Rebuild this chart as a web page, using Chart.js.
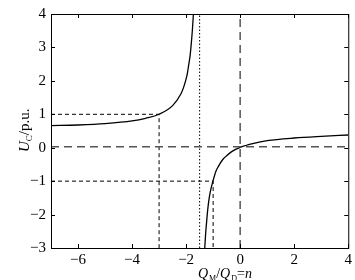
<!DOCTYPE html>
<html><head><meta charset="utf-8">
<script src="https://cdn.jsdelivr.net/npm/chart.js@4.4.0/dist/chart.umd.min.js"></script>
<style>html,body{margin:0;padding:0;background:#fff;}#wrap{width:355px;height:280px;}</style>
</head><body><div id="wrap"><canvas id="c" width="355" height="280"></canvas></div>
<script>
// Curve (two branches around the asymptote)
const leftX = [-7, -6, -5, -4, -3.5, -3, -2.5, -2.2, -2.1, -2, -1.95, -1.9, -1.85, -1.8, -1.77, -1.73];
const leftY = [0.66, 0.68, 0.72, 0.80, 0.88, 1.0, 1.26, 1.6, 1.79, 2.06, 2.24, 2.5, 2.77, 3.2, 3.5, 4.0];
const rightX = [-1.31, -1.28, -1.25, -1.2, -1.15, -1.1, -1.0, -0.9, -0.8, -0.65, -0.5, -0.3, 0, 0.5, 1, 2, 3, 4];
const rightY = [-3.0, -2.6, -2.3, -1.85, -1.53, -1.3, -0.98, -0.71, -0.55, -0.36, -0.24, -0.11, 0.01, 0.13, 0.21, 0.29, 0.34, 0.38];
// Reference lines
const refHigh = {x: -3, y: 1};
const refLow = {x: -1, y: -1};
const dottedX = -1.5;
const zeroLineY = 0.03;
const zeroLineX = 0;
const xTicks = [-6, -4, -2, 0, 2, 4];
const yTicks = [-3, -2, -1, 0, 1, 2, 3, 4];
const xMin = -7, xMax = 4, yMin = -3, yMax = 4;

const pts = (xs, ys) => xs.map((x, i) => ({x, y: ys[i]}));
const line = (data, color, width, dash, smooth) => ({data, borderColor: color, borderWidth: width, borderDash: dash, showLine: true, pointRadius: 0, fill: false, tension: smooth ? 0.4 : 0, cubicInterpolationMode: smooth ? 'monotone' : 'default'});

const fmt = v => v < 0 ? '\u2212' + Math.abs(v) : String(v);
const SERIF = '"Liberation Serif", "Times New Roman", serif';

const decor = {
  id: 'decor',
  afterDraw(chart) {
    const ctx = chart.ctx, a = chart.chartArea, xs = chart.scales.x, ys = chart.scales.y;
    ctx.save();
    ctx.strokeStyle = '#000'; ctx.lineWidth = 1;
    ctx.strokeRect(a.left + 0.5, a.top + 0.5, a.right - a.left, a.bottom - a.top);
    ctx.beginPath();
    xTicks.forEach(v => {
      const p = Math.round(xs.getPixelForValue(v)) + 0.5;
      ctx.moveTo(p, a.bottom); ctx.lineTo(p, a.bottom - 4);
      ctx.moveTo(p, a.top); ctx.lineTo(p, a.top + 4);
    });
    yTicks.forEach(v => {
      const p = Math.round(ys.getPixelForValue(v)) + 0.5;
      ctx.moveTo(a.left, p); ctx.lineTo(a.left + 4, p);
      ctx.moveTo(a.right, p); ctx.lineTo(a.right - 4, p);
    });
    ctx.stroke();
    ctx.fillStyle = '#000';
    ctx.textBaseline = 'alphabetic';
    ctx.textAlign = 'left';
    let x = 198, y = 278;
    const put = (t, f, dy) => { ctx.font = f + ' ' + SERIF; ctx.fillText(t, x, y + (dy || 0)); x += ctx.measureText(t).width; };
    // x label
    put('Q', 'italic 14px');
    x += 1;
    put('M', '8px', 3);
    put('/', '14px');
    put('Q', 'italic 14px');
    x += 1;
    put('D', '8px', 3);
    put('=', '14px');
    put('n', 'italic 14px');
    // y label
    ctx.translate(29, 152);
    ctx.rotate(-Math.PI / 2);
    x = 0; y = 0;
    put('U', 'italic 15px');
    put('C', '9px', 3);
    put('/p.u.', '15px');
    ctx.restore();
  }
};

new Chart(document.getElementById('c'), {
  type: 'scatter',
  data: {datasets: [
    line([{x: xMin, y: zeroLineY}, {x: xMax, y: zeroLineY}], '#555', 1.5, [8, 5]),
    line([{x: zeroLineX, y: yMin}, {x: zeroLineX, y: yMax}], '#555', 1.5, [8, 5]),
    line([{x: xMin, y: refHigh.y}, {x: refHigh.x, y: refHigh.y}, {x: refHigh.x, y: yMin}], '#000', 1, [4, 3]),
    line([{x: xMin, y: refLow.y}, {x: refLow.x, y: refLow.y}, {x: refLow.x, y: yMin}], '#000', 1, [4, 3]),
    line([{x: dottedX, y: yMin}, {x: dottedX, y: yMax}], '#000', 1, [1.5, 2]),
    line(pts(leftX, leftY), '#000', 1.3, [], true),
    line(pts(rightX, rightY), '#000', 1.3, [], true)
  ]},
  options: {
    responsive: false, animation: false,
    layout: {padding: {top: 4, right: 4, left: 0, bottom: 0}},
    plugins: {legend: {display: false}, tooltip: {enabled: false}},
    scales: {
      x: {type: 'linear', min: xMin, max: xMax,
        afterBuildTicks: s => { s.ticks = xTicks.map(v => ({value: v})); },
        afterFit: s => { s.height = 32; },
        grid: {display: false, drawTicks: false}, border: {display: false},
        ticks: {color: '#000', padding: 3, maxRotation: 0, autoSkip: false, font: {family: SERIF, size: 15}, callback: v => fmt(v)}},
      y: {type: 'linear', min: yMin, max: yMax,
        afterBuildTicks: s => { s.ticks = yTicks.map(v => ({value: v})); },
        afterFit: s => { s.width = 51; },
        grid: {display: false, drawTicks: false}, border: {display: false},
        ticks: {color: '#000', padding: 5, autoSkip: false, font: {family: SERIF, size: 15}, callback: v => fmt(v)}}
    }
  },
  plugins: [decor]
});
</script></body></html>
